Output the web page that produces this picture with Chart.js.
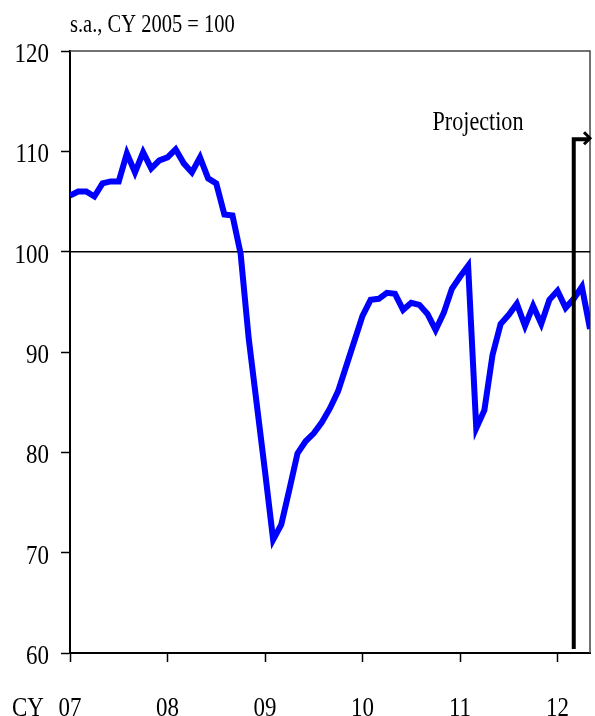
<!DOCTYPE html>
<html>
<head>
<meta charset="utf-8">
<title>Index, s.a., CY 2005 = 100</title>
<script src="https://cdn.jsdelivr.net/npm/chart.js@4"></script>
<style>
  html, body { margin: 0; padding: 0; background: #fff; }
  #chart { display: block; }
</style>
</head>
<body>
<canvas id="chart" width="595" height="716"></canvas>
<script>
// Monthly index, Jan 2007 (month 0) to May 2012 (month 64)
const startYear = 2007;
const indexValues = [
  105.6, 106.0, 106.0, 105.5, 106.8, 107.0, 107.0, 109.8, 107.9, 109.9, 108.3, 109.1,
  109.4, 110.2, 108.8, 107.9, 109.4, 107.3, 106.8, 103.7, 103.6, 99.8, 91.3, 84.7,
  78.1, 71.3, 72.8, 76.3, 79.9, 81.1, 81.9, 83.0, 84.4, 86.1, 88.6, 91.1,
  93.6, 95.2, 95.3, 95.9, 95.8, 94.2, 94.9, 94.7, 93.8, 92.2, 93.9, 96.3,
  97.5, 98.6, 82.4, 84.2, 89.7, 92.8, 93.7, 94.8, 92.6, 94.6, 92.8, 95.2,
  96.1, 94.4, 95.3, 96.5, 92.3
];

const xTickMonths = [0, 12, 24, 36, 48, 60];
const xTickLabels = ["07", "08", "09", "10", "11", "12"];
const yTicks = [60, 70, 80, 90, 100, 110, 120];

const baseLevel = 100;
const projectionMonth = 62;
const projectionTop = 111.2;

const unitLabel = "s.a., CY 2005 = 100";
const xAxisPrefix = "CY";
const projectionLabel = "Projection";

//////////// Drawing helpers ////////////

// Times-like text, squeezed sideways like the original figure
function drawText(ctx, str, x, y, align, size) {
  ctx.save();
  ctx.translate(x, y);
  ctx.scale(0.82, 1);
  ctx.font = `${size}px "Liberation Serif", "DejaVu Serif", serif`;
  ctx.fillStyle = "#000";
  ctx.textAlign = align;
  ctx.textBaseline = "alphabetic";
  ctx.fillText(str, 0, 0);
  ctx.restore();
}

// frame + 100 line go under the series
const underlayPlugin = {
  id: "underlay",
  beforeDatasetsDraw(chart) {
    const { ctx, chartArea, scales } = chart;
    const { left, right, top, bottom } = chartArea;
    ctx.save();
    ctx.strokeStyle = "#444";
    ctx.lineWidth = 1.5;
    ctx.beginPath();
    ctx.moveTo(left, top);
    ctx.lineTo(right, top);
    ctx.lineTo(right, bottom);
    ctx.stroke();

    const y100 = scales.y.getPixelForValue(baseLevel);
    ctx.strokeStyle = "#000";
    ctx.lineWidth = 1.5;
    ctx.beginPath();
    ctx.moveTo(left, y100);
    ctx.lineTo(right, y100);
    ctx.stroke();
    ctx.restore();
  },
};

// projection arrow + all the text
const overlayPlugin = {
  id: "overlay",
  afterDraw(chart) {
    const { ctx, chartArea, scales } = chart;
    const x = scales.x;
    const y = scales.y;

    const px = x.getPixelForValue(projectionMonth);
    const pTop = y.getPixelForValue(projectionTop);
    const pEnd = x.getPixelForValue(x.max);
    ctx.save();
    ctx.strokeStyle = "#000";
    ctx.lineWidth = 4;
    ctx.lineCap = "butt";
    ctx.lineJoin = "miter";
    ctx.beginPath();
    ctx.moveTo(px, chartArea.bottom - 4);
    ctx.lineTo(px, pTop);
    ctx.lineTo(pEnd - 1, pTop);
    ctx.stroke();
    ctx.lineWidth = 3;
    ctx.beginPath();
    ctx.moveTo(pEnd - 6, pTop - 7);
    ctx.lineTo(pEnd, pTop - 1);
    ctx.lineTo(pEnd - 6, pTop + 5);
    ctx.stroke();
    ctx.restore();

    drawText(ctx, projectionLabel, 478, 130, "center", 27);
    drawText(ctx, unitLabel, chartArea.left, 32, "left", 25);

    yTicks.forEach((v) => {
      drawText(ctx, String(v), 49, y.getPixelForValue(v) + 11, "right", 28);
    });
    xTickMonths.forEach((m, i) => {
      drawText(ctx, xTickLabels[i], x.getPixelForValue(m), 716, "center", 28);
    });
    drawText(ctx, xAxisPrefix, 12, 716, "left", 28);
  },
};

/////////////// Chart ///////////////

const ctx = document.getElementById("chart");

new Chart(ctx, {
  type: "line",
  data: {
    datasets: [
      {
        label: unitLabel,
        data: indexValues.map((v, i) => ({ x: i, y: v })),
        borderColor: "#0000ff",
        borderWidth: 6,
        pointRadius: 0,
        tension: 0,
        fill: false,
      },
    ],
  },
  options: {
    responsive: false,
    animation: false,
    devicePixelRatio: 1,
    layout: {
      padding: { top: 51, left: 61, right: 5, bottom: 54 },
    },
    plugins: {
      legend: { display: false },
      tooltip: { enabled: false },
    },
    scales: {
      x: {
        type: "linear",
        min: 0,
        max: indexValues.length - 1,
        afterBuildTicks: (axis) => {
          axis.ticks = xTickMonths.map((m) => ({ value: m }));
        },
        ticks: { display: false },
        grid: {
          drawOnChartArea: false,
          drawTicks: true,
          tickLength: 9,
          tickColor: "#000",
          tickWidth: 1.5,
        },
        border: { color: "#000", width: 2 },
      },
      y: {
        min: 60,
        max: 120,
        afterBuildTicks: (axis) => {
          axis.ticks = yTicks.map((v) => ({ value: v }));
        },
        ticks: { display: false },
        grid: {
          drawOnChartArea: false,
          drawTicks: true,
          tickLength: 9,
          tickColor: "#000",
          tickWidth: 1.5,
        },
        border: { color: "#000", width: 2 },
      },
    },
  },
  plugins: [underlayPlugin, overlayPlugin],
});
</script>
</body>
</html>
